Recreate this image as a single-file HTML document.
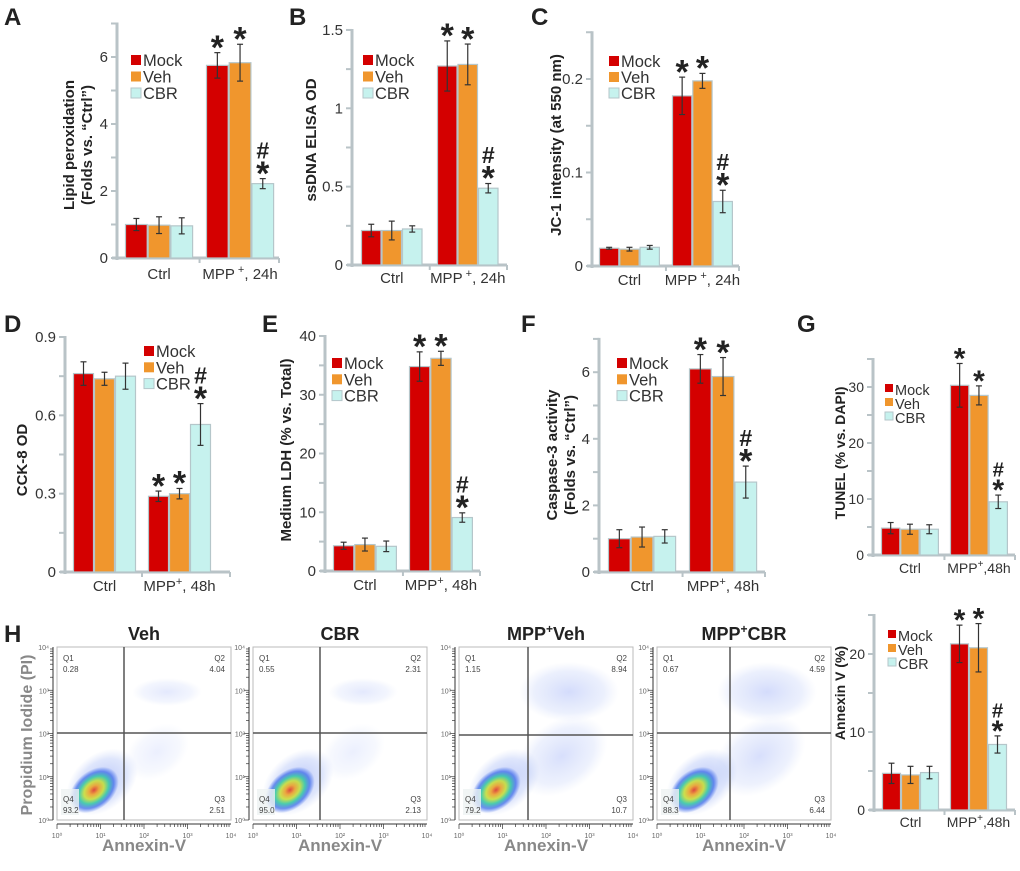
<!DOCTYPE html>
<html><head><meta charset="utf-8"><style>
html,body{margin:0;padding:0;background:#fff;}
svg{display:block;font-family:"Liberation Sans",Arial,sans-serif;}
</style></head><body>
<svg id="fig" width="1020" height="871" viewBox="0 0 1020 871" xmlns="http://www.w3.org/2000/svg">
<defs>
<radialGradient id="heat" cx="50%" cy="50%" r="50%">
<stop offset="0" stop-color="#e0301e"/><stop offset="0.2" stop-color="#f0a020"/><stop offset="0.4" stop-color="#c8e030"/><stop offset="0.6" stop-color="#30c8a0"/><stop offset="0.8" stop-color="#3060e8" stop-opacity="0.8"/><stop offset="1" stop-color="#3060e8" stop-opacity="0"/>
</radialGradient>
<radialGradient id="cloud" cx="50%" cy="50%" r="50%">
<stop offset="0" stop-color="#5070f0" stop-opacity="0.45"/><stop offset="0.7" stop-color="#7090f0" stop-opacity="0.25"/><stop offset="1" stop-color="#90a8f0" stop-opacity="0"/>
</radialGradient>
</defs>
</svg>
<script>
// ---------- data ----------
const categories = ["Ctrl", "MPP+"];
const seriesNames = ["Mock", "Veh", "CBR"];
const A_mock=[1.0,5.75], A_veh=[0.98,5.83], A_cbr=[0.96,2.22];
const A_err_mock=[0.18,0.38], A_err_veh=[0.25,0.55], A_err_cbr=[0.24,0.15];
const B_mock=[0.22,1.27], B_veh=[0.22,1.28], B_cbr=[0.23,0.49];
const B_err_mock=[0.04,0.16], B_err_veh=[0.06,0.13], B_err_cbr=[0.02,0.03];
const C_mock=[0.019,0.182], C_veh=[0.018,0.198], C_cbr=[0.020,0.069];
const C_err_mock=[0.001,0.02], C_err_veh=[0.002,0.008], C_err_cbr=[0.002,0.012];
const D_mock=[0.76,0.29], D_veh=[0.74,0.30], D_cbr=[0.75,0.565];
const D_err_mock=[0.045,0.02], D_err_veh=[0.025,0.02], D_err_cbr=[0.05,0.08];
const E_mock=[4.3,34.8], E_veh=[4.5,36.2], E_cbr=[4.2,9.1];
const E_err_mock=[0.6,2.5], E_err_veh=[1.1,1.2], E_err_cbr=[0.9,0.8];
const F_mock=[1.0,6.1], F_veh=[1.05,5.87], F_cbr=[1.07,2.7];
const F_err_mock=[0.27,0.43], F_err_veh=[0.3,0.57], F_err_cbr=[0.2,0.48];
const G_mock=[4.8,30.3], G_veh=[4.6,28.5], G_cbr=[4.6,9.5];
const G_err_mock=[1.0,3.9], G_err_veh=[0.9,1.7], G_err_cbr=[0.8,1.2];
const H_mock=[4.7,21.3], H_veh=[4.5,20.8], H_cbr=[4.8,8.4];
const H_err_mock=[1.3,2.4], H_err_veh=[1.1,3.1], H_err_cbr=[0.8,1.1];
const A_ticks=[0,2,4,6], B_ticks=["0","0.5","1","1.5"], C_ticks=["0","0.1","0.2"], D_ticks=["0","0.3","0.6","0.9"];
const E_ticks=[0,10,20,30,40], F_ticks=[0,2,4,6], G_ticks=[0,10,20,30], H_ticks=[0,10,20];
const flowTitles=["Veh","CBR","MPP+Veh","MPP+CBR"];
const flowQ1=["0.28","0.55","1.15","0.67"], flowQ2=["4.04","2.31","8.94","4.59"];
const flowQ3=["2.51","2.13","10.7","6.44"], flowQ4=["93.2","95.0","79.2","88.3"];

const NS="http://www.w3.org/2000/svg";
const svg=document.getElementById('fig');
function mk(tag,attrs,parent){const e=document.createElementNS(NS,tag);for(const k in attrs)e.setAttribute(k,attrs[k]);(parent||svg).appendChild(e);return e;}
function txt(s,attrs,parent){const e=mk('text',attrs,parent);e.textContent=s;return e;}
const COLORS=["#d40000","#f0962d","#c6f2ee"];
const AX="#b9c3c7";

function panel(c){
  const g=mk('g',{});
  
  
  const y=v=>c.y0-(v-0)*c.ppu;
  const L=txt(c.id,{x:c.lx,y:c.ly,'font-size':24,'font-weight':'bold',fill:'#222'},g);
  
  
  const ax=mk('line',{x1:c.ax,y1:y(c.max)-1,x2:c.ax,y2:c.y0+2,stroke:AX,'stroke-width':3},g);
  
  
  const bx=mk('line',{x1:c.ax-5,y1:c.y0,x2:c.baseEnd,y2:c.y0,stroke:AX,'stroke-width':3},g);
  
  
  const mid=(c.ctrl+3*c.bw+c.mpp)/2;
  [mid,c.baseEnd].forEach(xx=>mk('line',{x1:xx,y1:c.y0,x2:xx,y2:c.y0+5,stroke:AX,'stroke-width':2},g));
  for(let v=0;v<=c.max+1e-9;v+=c.minor){mk('line',{x1:c.ax-6,y1:y(v),x2:c.ax,y2:y(v),stroke:AX,'stroke-width':2},g);}
  c.ticks.forEach(t=>{const lab=txt(String(t),{x:c.ax-9,y:y(parseFloat(t))+5,'font-size':c.fs,'text-anchor':'end',fill:'#333'},g);
    
    });
  c.ylab.forEach((s,i)=>{const t=txt(s,{x:0,y:0,'font-size':c.yfs||15,'font-weight':'bold','text-anchor':'middle',fill:'#222',transform:`translate(${c.ylx[i]},${c.lyc}) rotate(-90)`},g);
    
    });
  const series=[c.mock,c.veh,c.cbr], errs=[c.emock,c.eveh,c.ecbr];
  const sfs=c.sfs||34;
  categories.forEach((cat,ci)=>{
    const x0=ci===0?c.ctrl:c.mpp;
    series.forEach((s,si)=>{
      const v=s[ci], e=errs[si][ci], bx0=x0+si*c.bw;
      const r=mk('rect',{x:bx0+0.5,y:y(v),width:c.bw-1,height:c.y0-y(v),fill:COLORS[si],stroke:'#b5c6ca','stroke-width':1.2},g);
      
      
      const cx=bx0+c.bw/2;
      mk('line',{x1:cx,y1:y(v+e),x2:cx,y2:y(v-e),stroke:'#333','stroke-width':1.2},g);
      mk('line',{x1:cx-3,y1:y(v+e),x2:cx+3,y2:y(v+e),stroke:'#333','stroke-width':1.2},g);
      mk('line',{x1:cx-3,y1:y(v-e),x2:cx+3,y2:y(v-e),stroke:'#333','stroke-width':1.2},g);
      if(ci===1){
        const top=y(v+e);
        const st=txt('*',{x:cx,y:top+0.33*sfs-5,'font-size':sfs,'font-weight':'bold','text-anchor':'middle',fill:'#222'},g);
        
        
        if(si===2){const h=txt('#',{x:cx,y:top-0.45*sfs-5,'font-size':sfs*0.68,'font-weight':'bold','text-anchor':'middle',fill:'#222'},g);
          
          }
      }
    });
  });
  [c.ctrl+1.5*c.bw, c.mpp+1.5*c.bw].forEach((xx,i)=>{
    const t=mk('text',{x:xx,y:c.y0+c.catDy,'font-size':c.cfs||15,'text-anchor':'middle',fill:'#333'},g);
    if(i===0){t.textContent='Ctrl';}else{
      t.appendChild(document.createTextNode('MPP'));
      const sp=document.createElementNS(NS,'tspan');sp.setAttribute('dy','-6');sp.setAttribute('font-size',(c.cfs||15)-4);sp.textContent=c.supGap?' +':'+';t.appendChild(sp);
      const sp2=document.createElementNS(NS,'tspan');sp2.setAttribute('dy','6');sp2.textContent=c.mppLabel;t.appendChild(sp2);}
    
    
  });
  seriesNames.forEach((n,i)=>{
    const cy=c.legY+i*c.legDy;
    const sw=mk('rect',{x:c.legX,y:cy-5,width:c.sw||10,height:c.sw||10,fill:COLORS[i],stroke:i===2?'#b5c6ca':'none'},g);
    
    
    const t=txt(n,{x:c.legX+(c.sw||10)+2,y:cy+6,'font-size':c.lfs||16.5,fill:'#333'},g);
    
    
  });
}

panel({id:'A',lx:4,ly:25,ax:117,y0:258,ppu:33.5,max:7,minor:1,ticks:A_ticks,fs:15,ylab:['Lipid peroxidation','(Folds vs. “Ctrl”)'],ylx:[74,92],lyc:145,
  ctrl:125,mpp:206,bw:22.7,baseEnd:279,mock:A_mock,veh:A_veh,cbr:A_cbr,emock:A_err_mock,eveh:A_err_veh,ecbr:A_err_cbr,mppLabel:', 24h',supGap:true,catDy:21,legX:131,legY:60,legDy:16.5});
panel({id:'B',lx:289,ly:25,ax:352,y0:265,ppu:156.7,max:1.5,minor:0.25,ticks:B_ticks,fs:15,ylab:['ssDNA ELISA OD'],ylx:[316],lyc:140,
  ctrl:361,mpp:437,bw:20.5,baseEnd:507,mock:B_mock,veh:B_veh,cbr:B_cbr,emock:B_err_mock,eveh:B_err_veh,ecbr:B_err_cbr,mppLabel:', 24h',supGap:true,catDy:18,legX:363,legY:60,legDy:16.5});
panel({id:'C',lx:531,ly:25,ax:592,y0:266,ppu:935,max:0.25,minor:0.05,ticks:C_ticks,fs:15,ylab:['JC-1 intensity (at 550 nm)'],ylx:[561],lyc:145,
  ctrl:599,mpp:672,bw:20.3,baseEnd:739,mock:C_mock,veh:C_veh,cbr:C_cbr,emock:C_err_mock,eveh:C_err_veh,ecbr:C_err_cbr,mppLabel:', 24h',supGap:true,catDy:19,legX:609,legY:61,legDy:16});
panel({id:'D',lx:4,ly:332,ax:65,y0:572,ppu:261.1,max:0.9,minor:0.15,ticks:D_ticks,fs:15,ylab:['CCK-8 OD'],ylx:[27],lyc:460,
  ctrl:73,mpp:148,bw:21,baseEnd:230,mock:D_mock,veh:D_veh,cbr:D_cbr,emock:D_err_mock,eveh:D_err_veh,ecbr:D_err_cbr,mppLabel:', 48h',catDy:19,legX:144,legY:351,legDy:16.3});
panel({id:'E',lx:262,ly:332,ax:325,y0:571,ppu:5.875,max:40,minor:5,ticks:E_ticks,fs:15,ylab:['Medium LDH (% vs. Total)'],ylx:[291],lyc:450,
  ctrl:333,mpp:409,bw:21.3,baseEnd:480,mock:E_mock,veh:E_veh,cbr:E_cbr,emock:E_err_mock,eveh:E_err_veh,ecbr:E_err_cbr,mppLabel:', 48h',catDy:19,legX:332,legY:363,legDy:16.3});
panel({id:'F',lx:521,ly:332,ax:599,y0:572,ppu:33.3,max:7,minor:1,ticks:F_ticks,fs:15,ylab:['Caspase-3 activity','(Folds vs. “Ctrl”)'],ylx:[557,575],lyc:455,
  ctrl:608,mpp:689,bw:22.7,baseEnd:765,mock:F_mock,veh:F_veh,cbr:F_cbr,emock:F_err_mock,eveh:F_err_veh,ecbr:F_err_cbr,mppLabel:', 48h',catDy:19,legX:617,legY:363,legDy:16.3});
panel({id:'G',lx:797,ly:332,ax:873,y0:555,ppu:5.6,max:35,minor:5,ticks:G_ticks,fs:14,ylab:['TUNEL (% vs. DAPI)'],ylx:[845],lyc:453,yfs:14,
  ctrl:881,mpp:950,bw:19.3,baseEnd:1015,mock:G_mock,veh:G_veh,cbr:G_cbr,emock:G_err_mock,eveh:G_err_veh,ecbr:G_err_cbr,mppLabel:',48h',catDy:18,cfs:14,legX:885,legY:389,legDy:14,lfs:14.5,sw:8,sfs:30});
panel({id:'H',lx:4,ly:642,ax:874,y0:810,ppu:7.8,max:25,minor:5,ticks:H_ticks,fs:14,ylab:['Annexin V (%)'],ylx:[845],lyc:693,yfs:14,
  ctrl:882,mpp:950,bw:19,baseEnd:1015,mock:H_mock,veh:H_veh,cbr:H_cbr,emock:H_err_mock,eveh:H_err_veh,ecbr:H_err_cbr,mppLabel:',48h',catDy:17,cfs:14,legX:888,legY:635,legDy:14,lfs:14.5,sw:8,sfs:30});

// ---------- flow cytometry plots ----------
const boxX=[57,253,459,657], boxW=174, boxY=647, boxH=173, qv=[67,67,69,73], qh=[86,86,88,86];
const yl=txt('Propidium Iodide (PI)',{x:0,y:0,'font-size':16,'font-weight':'bold','text-anchor':'middle',fill:'#888',transform:'translate(32,735) rotate(-90)'});


flowTitles.forEach((title,i)=>{
  const g=mk('g',{});
  
  
  const x0=boxX[i], cx=x0+boxW/2;
  const t=mk('text',{x:cx,y:640,'font-size':18,'font-weight':'bold','text-anchor':'middle',fill:'#222'},g);
  if(title.startsWith('MPP+')){t.appendChild(document.createTextNode('MPP'));const s=document.createElementNS(NS,'tspan');s.setAttribute('dy','-7');s.setAttribute('font-size','12');s.textContent='+';t.appendChild(s);const s2=document.createElementNS(NS,'tspan');s2.setAttribute('dy','7');s2.textContent=title.slice(4);t.appendChild(s2);}else t.textContent=title;
  
  
  mk('rect',{x:x0,y:boxY,width:boxW,height:boxH,fill:'#fff',stroke:'#bbb','stroke-width':1},g);
  const strong=i>=2;
  mk('ellipse',{cx:x0+110,cy:boxY+45,rx:strong?50:35,ry:strong?30:14,fill:'url(#cloud)',opacity:strong?0.55:0.35},g);
  mk('ellipse',{cx:x0+100,cy:boxY+(strong?110:105),rx:strong?50:35,ry:strong?35:25,fill:'url(#cloud)',opacity:strong?0.5:0.25,transform:`rotate(-35 ${x0+100} ${boxY+105})`},g);
  mk('ellipse',{cx:x0+45,cy:boxY+135,rx:40,ry:28,fill:'url(#cloud)',opacity:0.9,transform:`rotate(-40 ${x0+45} ${boxY+135})`},g);
  mk('ellipse',{cx:x0+37,cy:boxY+143,rx:28,ry:19,fill:'url(#heat)',opacity:0.85,transform:`rotate(-40 ${x0+37} ${boxY+143})`},g);
  mk('rect',{x:x0+4,y:boxY+142,width:18,height:26,fill:'#eef2f2',opacity:0.8},g);
  mk('line',{x1:x0+qv[i],y1:boxY,x2:x0+qv[i],y2:boxY+boxH,stroke:'#555','stroke-width':1.5},g);
  mk('line',{x1:x0,y1:boxY+qh[i],x2:x0+boxW,y2:boxY+qh[i],stroke:'#555','stroke-width':1.5},g);
  mk('line',{x1:x0,y1:boxY+boxH+4,x2:x0+boxW,y2:boxY+boxH+4,stroke:'#333','stroke-width':1},g);
  mk('line',{x1:x0-4,y1:boxY,x2:x0-4,y2:boxY+boxH,stroke:'#333','stroke-width':1},g);
  for(let d=0;d<4;d++){for(let k=1;k<10;k++){const f=Math.log10(k)/4;
    const xx=x0+(d/4+f)*boxW, yy=boxY+boxH-(d/4+f)*boxH;
    mk('line',{x1:xx,y1:boxY+boxH+4,x2:xx,y2:boxY+boxH+(k===1?9:7),stroke:'#333','stroke-width':0.7},g);
    mk('line',{x1:x0-4,y1:yy,x2:x0-(k===1?9:7),y2:yy,stroke:'#333','stroke-width':0.7},g);}}
  for(let d=0;d<=4;d++){
    const xx=x0+d/4*boxW, yy=boxY+boxH-d/4*boxH;
    txt('10'+['⁰','¹','²','³','⁴'][d],{x:xx,y:boxY+boxH+18,'font-size':7,'text-anchor':'middle',fill:'#666'},g);
    txt('10'+['⁰','¹','²','³','⁴'][d],{x:x0-8,y:yy+3,'font-size':7,'text-anchor':'end',fill:'#666'},g);
  }
  const ql=[['Q1',x0+6,boxY+14,'start'],[flowQ1[i],x0+6,boxY+25,'start'],['Q2',x0+boxW-6,boxY+14,'end'],[flowQ2[i],x0+boxW-6,boxY+25,'end'],
    ['Q4',x0+6,boxY+155,'start'],[flowQ4[i],x0+6,boxY+166,'start'],['Q3',x0+boxW-6,boxY+155,'end'],[flowQ3[i],x0+boxW-6,boxY+166,'end']];
  ql.forEach(q=>{const e=txt(q[0],{x:q[1],y:q[2],'font-size':8,'text-anchor':q[3],fill:'#444'},g);
    
    });
  const xl=txt('Annexin-V',{x:cx,y:851,'font-size':17,'font-weight':'bold','text-anchor':'middle',fill:'#888'},g);
  
  
});
</script>
</body></html>
